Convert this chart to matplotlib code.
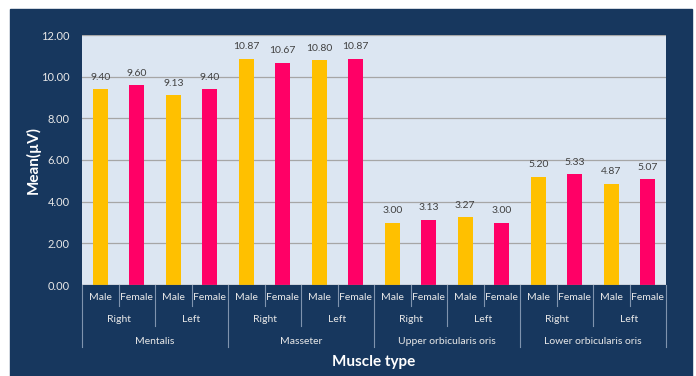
import matplotlib
matplotlib.use('Agg')
import numpy as np
from matplotlib import pyplot as plt
from matplotlib.patches import Rectangle
import matplotlib.transforms as mtransforms

plt.rcParams['font.family'] = ['Lato', 'DejaVu Sans']

muscles = ['Mentalis', 'Masseter', 'Upper orbicularis oris', 'Lower orbicularis oris']
sides = ['Right', 'Left']
genders = ['Male', 'Female']
values = [9.40, 9.60, 9.13, 9.40,
          10.87, 10.67, 10.80, 10.87,
          3.00, 3.13, 3.27, 3.00,
          5.20, 5.33, 4.87, 5.07]
value_labels = ['9.40', '9.60', '9.13', '9.40',
                '10.87', '10.67', '10.80', '10.87',
                '3.00', '3.13', '3.27', '3.00',
                '5.20', '5.33', '4.87', '5.07']

navy = '#17375E'
colors = ['#FFC000', '#FF0066'] * 8

fig = plt.figure(figsize=(6.96, 3.76), dpi=100)
fig.patches.append(Rectangle((10 / 696, 0), 682 / 696, 1 - 9 / 376,
                             transform=fig.transFigure, color=navy, zorder=-10))
ax = fig.add_axes([82 / 696, 1 - 285 / 376, 584 / 696, 250 / 376])
ax.set_zorder(1)
ax.set_facecolor('#DCE6F2')

x = np.arange(len(values))
ax.bar(x, values, width=0.4, color=colors, zorder=3)
for xi, v, lab in zip(x, values, value_labels):
    ax.text(xi, v + 0.35, lab, ha='center', va='bottom', fontsize=7.5, color='#404040')

ax.set_xlim(-0.5, len(values) - 0.5)
ax.set_ylim(0, 12)
ax.set_yticks(np.arange(0, 13, 2))
ax.set_yticklabels([f'{t:.2f}' for t in np.arange(0, 13, 2)], color='#E8E8E8', fontsize=8)
ax.yaxis.grid(True, color='#A6A6A6', linewidth=0.9, zorder=0)
ax.set_axisbelow(True)
ax.set_xticks([])
ax.tick_params(axis='y', length=0, pad=9)
for s in ax.spines.values():
    s.set_visible(False)
ax.axhline(0, color='#8C8C8C', linewidth=0.9, zorder=4)

ax.set_ylabel('Mean(µV)', color='white', fontsize=11, fontweight='bold', labelpad=0)

# hierarchical x labels
trans = mtransforms.blended_transform_factory(ax.transData, fig.transFigure)
def fy(py):
    return 1 - py / 376

line_kw = dict(color='#7F93AE', linewidth=0.8, transform=trans, clip_on=False)
for i, g in enumerate(genders * 8):
    ax.text(i, fy(298), g, ha='center', va='center', fontsize=7.5, color='#E8E8E8', transform=trans)
for i in range(17):
    xe = i - 0.5
    if i % 4 == 0:
        bottom = 347
    elif i % 2 == 0:
        bottom = 326
    else:
        bottom = 306
    ax.plot([xe, xe], [fy(285), fy(bottom)], **line_kw)
for j in range(8):
    ax.text(2 * j + 0.5, fy(319), sides[j % 2], ha='center', va='center', fontsize=7.5,
            color='#E8E8E8', transform=trans)
for k, m in enumerate(muscles):
    ax.text(4 * k + 1.5, fy(341), m, ha='center', va='center', fontsize=7.5,
            color='#E8E8E8', transform=trans)
fig.text(0.5 * (82 + 666) / 696, fy(362), 'Muscle type', ha='center', va='center',
         fontsize=11, fontweight='bold', color='white')

plt.savefig('out.png', dpi=100)
